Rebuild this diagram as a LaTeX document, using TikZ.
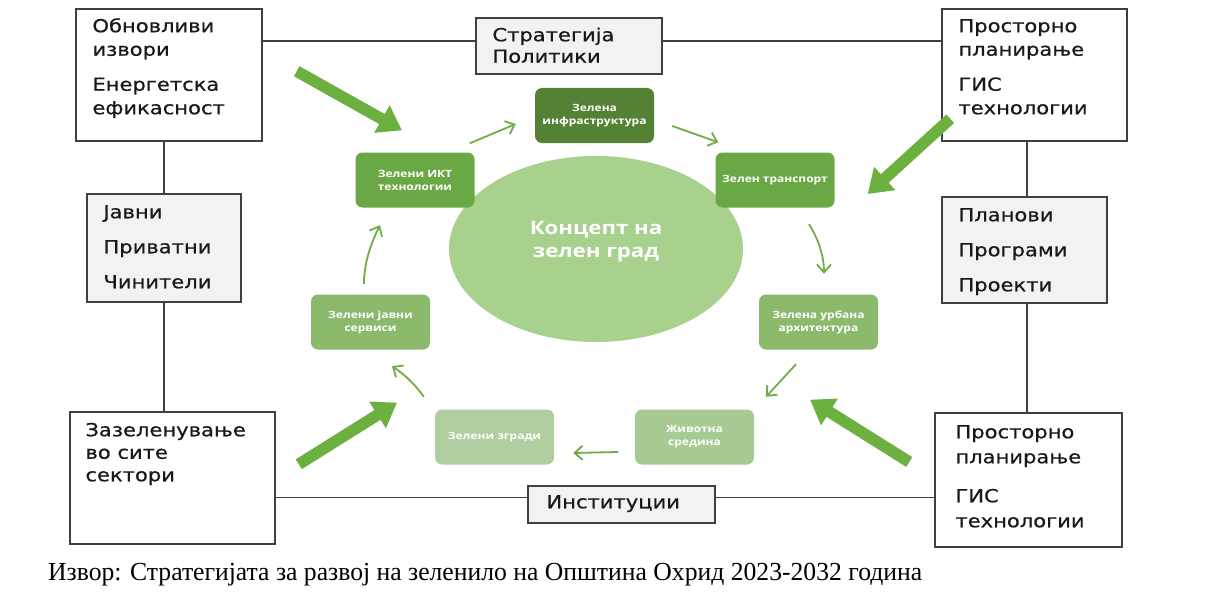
\documentclass[tikz,border=0pt]{standalone}
\usepackage{fontspec}
\usepackage{graphicx}
\setmainfont{Liberation Serif}
\newfontfamily\bfnt[FakeStretch=1.17,FakeBold=0.6]{DejaVu Sans}
\newfontfamily\gfnt[FakeStretch=1.2]{Open Sans}
\usetikzlibrary{shapes.geometric,arrows.meta}
\definecolor{gDark}{RGB}{84,129,51}
\definecolor{gMid}{RGB}{106,168,69}
\definecolor{gLight}{RGB}{140,186,109}
\definecolor{gPale}{RGB}{168,203,148}
\definecolor{gPaleB}{RGB}{176,206,160}
\definecolor{gEll}{RGB}{169,209,142}
\definecolor{gArr}{RGB}{112,173,71}
\definecolor{gThick}{RGB}{108,176,64}
\definecolor{bord}{RGB}{64,64,64}
\definecolor{boxgray}{RGB}{242,242,242}
\newcommand{\bxt}[1]{\begin{minipage}[t]{230pt}\raggedright #1\end{minipage}}
\begin{document}
\begin{tikzpicture}[x=1pt,y=-1pt,
  frame/.style={draw=bord, line width=1.5pt, inner sep=0pt},
  wbox/.style={frame, fill=white},
  gbox/.style={frame, fill=boxgray},
  btxt/.style={inner sep=0pt, anchor=base west, text=black!90, font=\bfnt\fontsize{18}{23.5}\selectfont},
  conn/.style={draw=bord, line width=1.5pt},
  gnode/.style={rounded corners=7pt, minimum width=119pt, minimum height=55pt, inner sep=0pt, text=white, align=center, font=\gfnt\bfseries\fontsize{10}{13}\selectfont},
  ctext/.style={inner sep=0pt, text=white, align=center, font=\gfnt\bfseries\fontsize{18.5}{23}\selectfont},
  thin/.style={draw=gArr, line width=1.8pt, -{Straight Barb[length=8pt,width=14pt]}},
  thick/.style={draw=gThick, line width=11.5pt, -{Triangle[length=23pt,width=30pt]}},
]
\fill[white] (0,0) rectangle (1206,591);
\useasboundingbox (0,0) rectangle (1206,591);

% outer boxes
\node[wbox, minimum width=186pt, minimum height=132pt] (tl) at (169,75) {};
\node[btxt] (tlt) at ([shift={(17,24)}]tl.north west) {\bxt{Обновливи\\извори\\[11.5pt]Енергетска\\ефикасност}};

\node[gbox, minimum width=186pt, minimum height=56pt] (str) at (569,46) {};
\node[btxt, font=\bfnt\fontsize{18}{21.5}\selectfont] (strt) at ([shift={(17,24)}]str.north west) {\bxt{Стратегија\\Политики}};

\node[wbox, minimum width=185pt, minimum height=132pt] (tr) at (1034.5,75) {};
\node[btxt] (trt) at ([shift={(17,24)}]tr.north west) {\bxt{Просторно\\планирање\\[11.5pt]ГИС\\технологии}};

\node[gbox, minimum width=154pt, minimum height=108pt] (ja) at (164,248) {};
\node[btxt] (jat) at ([shift={(17,25)}]ja.north west) {\bxt{Јавни\\[11.5pt]Приватни\\[11.5pt]Чинители}};

\node[gbox, minimum width=165pt, minimum height=106pt] (pl) at (1024.5,250) {};
\node[btxt] (plt) at ([shift={(17,25)}]pl.north west) {\bxt{Планови\\[11.5pt]Програми\\[11.5pt]Проекти}};

\node[wbox, minimum width=205pt, minimum height=132pt] (zz) at (172.5,478) {};
\node[btxt, font=\bfnt\fontsize{18}{22.5}\selectfont] (zzt) at ([shift={(16,25)}]zz.north west) {\bxt{Зазеленување\\во сите\\сектори}};

\node[wbox, minimum width=187pt, minimum height=134pt] (br) at (1028.5,480) {};
\node[btxt, font=\bfnt\fontsize{18}{25}\selectfont] (brt) at ([shift={(21,26)}]br.north west) {\bxt{Просторно\\планирање\\[14pt]ГИС\\технологии}};

\node[gbox, minimum width=187pt, minimum height=37pt] (in) at (621.5,504.5) {};
\node[btxt] (int) at ([shift={(19,23)}]in.north west) {Институции};

% connectors between outer boxes
\draw[conn] ([shift={(0,33)}]tl.north east) -- ([shift={(0,24)}]str.north west);
\draw[conn] ([shift={(0,24)}]str.north east) -- ([shift={(0,33)}]tr.north west);
\draw[conn] (ja.north |- tl.south) -- (ja.north);
\draw[conn] (ja.south) -- (ja.south |- zz.north);
\draw[conn] ([shift={(-2,-47.5)}]zz.south east) -- ([shift={(0,12)}]in.north west);
\draw[conn] ([shift={(0,12)}]in.north east) -- ([shift={(0,85)}]br.north west);
\draw[conn] ([shift={(2.5,0)}]pl.north |- tr.south) -- ([shift={(2.5,0)}]pl.north);
\draw[conn] ([shift={(2.5,0)}]pl.south) -- ([shift={(2.5,0)}]pl.south |- br.north);

% centre
\node[ellipse, fill=gEll, minimum width=294pt, minimum height=186pt, inner sep=0pt] (ell) at (596,249) {};
\node[ctext] (ct) at ([shift={(0,-7)}]ell.center) {Концепт на\\зелен град};

\node[gnode, fill=gDark] (inf) at (594.5,115.5) {Зелена\\инфраструктура};
\node[gnode, fill=gMid] (ikt) at (415,180) {Зелени ИКТ\\технологии};
\node[gnode, fill=gMid] (trn) at (775,180) {Зелен транспорт};
\node[gnode, fill=gLight] (jav) at (370.5,322) {Зелени јавни\\сервиси};
\node[gnode, fill=gLight] (urb) at (818.5,322) {Зелена урбана\\архитектура};
\node[gnode, fill=gPale] (zhv) at (694.5,437) {Животна\\средина};
\node[gnode, fill=gPaleB] (zgr) at (494.5,437) {Зелени згради};

% thin cycle arrows
\draw[thin] ([shift={(-5,-9)}]ikt.north east) -- ([shift={(-19,8.5)}]inf.west);
\draw[thin] ([shift={(18,10.5)}]inf.east) -- ([shift={(3,-10)}]trn.north west);
\draw[thin] ([shift={(34,16.5)}]trn.south) .. controls +(9,14) and +(0,-18) .. ([shift={(5.5,-20.5)}]urb.north);
\draw[thin] ([shift={(-22.5,14.5)}]urb.south) -- ([shift={(71.5,-12.5)}]zhv.north);
\draw[thin] ([shift={(-17,15)}]zhv.west) -- ([shift={(19,16)}]zgr.east);
\draw[thin] ([shift={(-11,-12.5)}]zgr.north west) .. controls +(-10,-14) and +(12,8) .. ([shift={(21.5,16.5)}]jav.south);
\draw[thin] ([shift={(-6.5,-10.5)}]jav.north) .. controls +(0,-25) and +(-6,12) .. ([shift={(-35,17.5)}]ikt.south);

% thick arrows
\draw[thick] ([shift={(34,63)}]tl.north east) -- ([shift={(-13,-22)}]ikt.north);
\draw[thick] ([shift={(9,-23)}]tr.south west) -- ([shift={(33,14)}]trn.east);
\draw[thick] ([shift={(23,53)}]zz.north east) -- ([shift={(26.5,53)}]jav.south);
\draw[thick] ([shift={(-25,-18)}]br.west) -- ([shift={(-8.5,50)}]urb.south);

% caption
\node[anchor=base west, inner sep=0pt] (cap) at (48,580) {\resizebox{874pt}{\height}{\fontsize{26}{30}\selectfont Извор: Стратегијата за развој на зеленило на Општина Охрид 2023-2032 година}};
\end{tikzpicture}
\end{document}
